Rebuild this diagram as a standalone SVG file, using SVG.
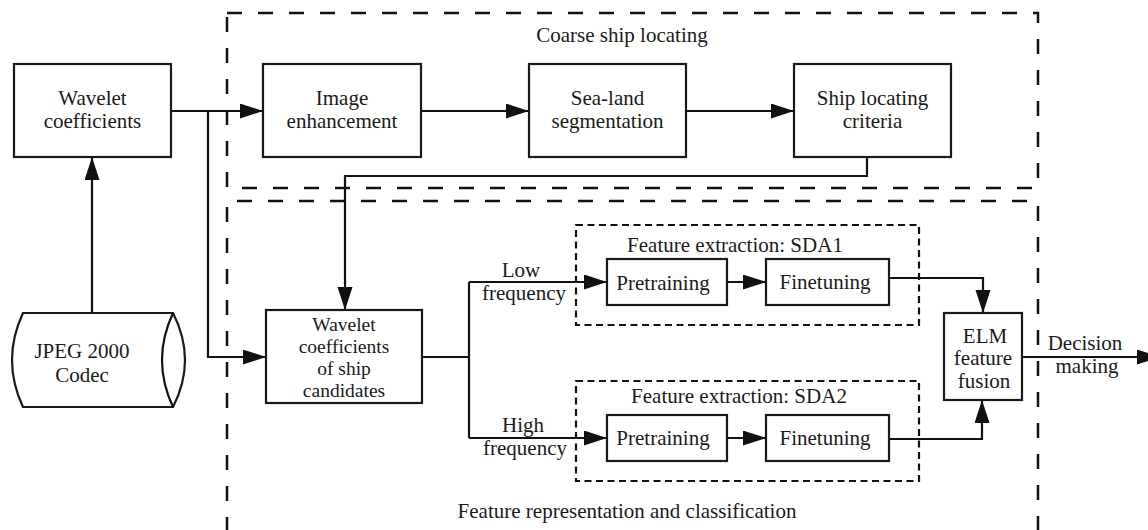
<svg xmlns="http://www.w3.org/2000/svg" width="1148" height="530" viewBox="0 0 1148 530">
<style>
text{font-family:"Liberation Serif","Times New Roman",serif;font-size:21px;fill:#1a1a1a;text-anchor:middle}
.sm{font-size:19.5px}
.box{fill:#fff;stroke:#1a1a1a;stroke-width:2.2}
.outer{fill:none;stroke:#111;stroke-width:2.5;stroke-dasharray:15 16}
.inner{fill:none;stroke:#111;stroke-width:2.2;stroke-dasharray:7 4.5}
.c{fill:none;stroke:#111;stroke-width:2.2}
.a{marker-end:url(#ah)}
</style>
<defs>
<marker id="ah" markerUnits="userSpaceOnUse" markerWidth="24" markerHeight="16" refX="23" refY="7.5" orient="auto">
<polygon points="0,0 23,7.5 0,15" fill="#111"/>
</marker>
</defs>
<rect width="1148" height="530" fill="#fff"/>
<g id="coarse-group">
<rect class="outer" x="227" y="13" width="811" height="175"/>
<text x="622" y="42">Coarse ship locating</text>
</g>
<g id="feature-group">
<path class="outer" d="M227,532 V201 H1038 V532"/>
<text x="627" y="518">Feature representation and classification</text>
</g>
<g id="sda1-group">
<rect class="inner" x="576" y="225" width="343" height="100"/>
<text x="735" y="252">Feature extraction: SDA1</text>
</g>
<g id="sda2-group">
<rect class="inner" x="576" y="381" width="343" height="100"/>
<text x="739" y="403">Feature extraction: SDA2</text>
</g>
<g id="connectors">
<path class="c a" d="M92,313 V157"/>
<path class="c a" d="M171,111 H263"/>
<path class="c a" d="M208,111 V357 H266"/>
<path class="c a" d="M421,111 H529"/>
<path class="c a" d="M686,111 H794"/>
<path class="c a" d="M867,157 V176 H345 V310"/>
<path class="c" d="M422,357 H469"/>
<path class="c" d="M469,282 V438"/>
<path class="c a" d="M469,282 H607"/>
<path class="c a" d="M469,438 H607"/>
<path class="c a" d="M727,282 H766"/>
<path class="c a" d="M727,438 H766"/>
<path class="c a" d="M889,278 H983 V313"/>
<path class="c a" d="M889,439 H982 V400"/>
<path class="c a" d="M1022,357 H1160"/>
<text x="521" y="277">Low</text>
<text x="524" y="300">frequency</text>
<text x="523" y="432">High</text>
<text x="525" y="455">frequency</text>
<text x="1085" y="350">Decision</text>
<text x="1087" y="373">making</text>
</g>
<g id="wavelet">
<rect class="box" x="14" y="64" width="157" height="93"/>
<text x="92.5" y="105">Wavelet</text>
<text x="92.5" y="128">coefficients</text>
</g>
<g id="image-enhancement">
<rect class="box" x="263" y="64" width="158" height="93"/>
<text x="342" y="105">Image</text>
<text x="342" y="128">enhancement</text>
</g>
<g id="sea-land">
<rect class="box" x="529" y="64" width="157" height="93"/>
<text x="607.5" y="105">Sea-land</text>
<text x="607.5" y="128">segmentation</text>
</g>
<g id="ship-locating">
<rect class="box" x="794" y="64" width="157" height="93"/>
<text x="872.5" y="105">Ship locating</text>
<text x="872.5" y="128">criteria</text>
</g>
<g id="jpeg">
<path class="box" d="M23,313 H173 Q197,360 173,407 H23 Q1,360 23,313 Z"/>
<path class="c" d="M173,313 Q151,360 173,407"/>
<text x="82" y="358">JPEG 2000</text>
<text x="82" y="382">Codec</text>
</g>
<g id="candidates">
<rect class="box" x="266" y="310" width="156" height="93"/>
<text class="sm" x="344" y="331">Wavelet</text>
<text class="sm" x="344" y="353">coefficients</text>
<text class="sm" x="344" y="375">of ship</text>
<text class="sm" x="344" y="397">candidates</text>
</g>
<g id="pretraining1">
<rect class="box" x="607" y="259" width="120" height="46"/>
<text x="663" y="290">Pretraining</text>
</g>
<g id="finetuning1">
<rect class="box" x="766" y="259" width="123" height="46"/>
<text x="825" y="289">Finetuning</text>
</g>
<g id="pretraining2">
<rect class="box" x="607" y="415" width="120" height="46"/>
<text x="663" y="445">Pretraining</text>
</g>
<g id="finetuning2">
<rect class="box" x="766" y="415" width="123" height="46"/>
<text x="825" y="445">Finetuning</text>
</g>
<g id="elm">
<rect class="box" x="944" y="313" width="78" height="87"/>
<text x="985" y="343">ELM</text>
<text x="983" y="365">feature</text>
<text x="984" y="388">fusion</text>
</g>
</svg>
